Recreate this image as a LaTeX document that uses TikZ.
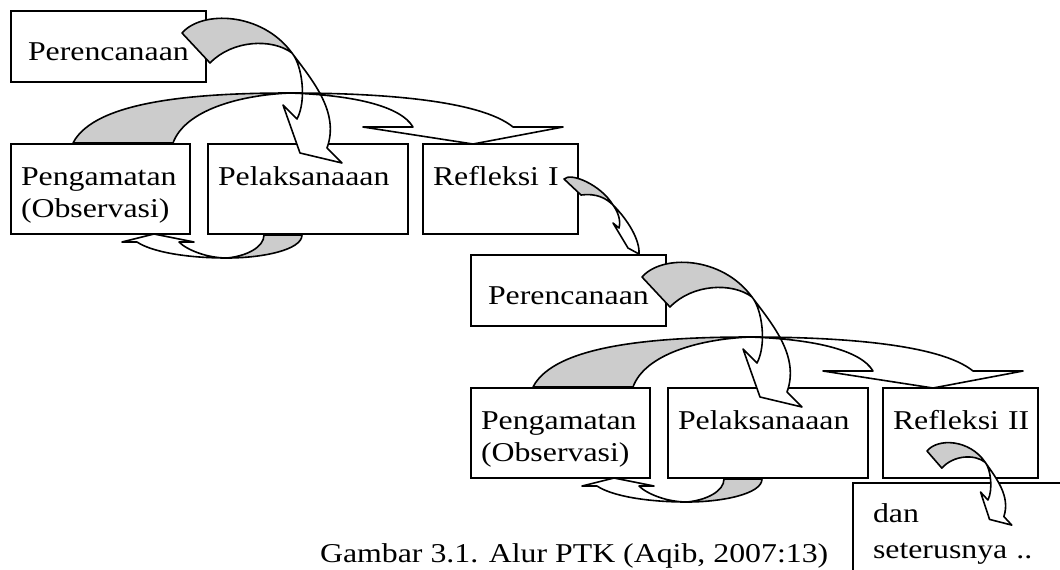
\documentclass[tikz,border=0pt]{standalone}
\usepackage{fontspec}
\setmainfont{Liberation Serif}[FakeStretch=1.17]
\usetikzlibrary{positioning}

\begin{document}
\begin{tikzpicture}[x=0.5pt, y=-0.5pt,
every node/.style={font=\fontsize{13.6pt}{16.4pt}\selectfont, inner ysep=0pt},
box/.style={draw, line width=1pt, anchor=north west, align=left, inner xsep=5pt, text height=20.5pt, text depth=24.5pt},
planbox/.style={box, inner xsep=8.5pt, text width=80.5pt, text height=24.5pt, text depth=11pt},
ribbon/.style={draw, line width=.8pt, line join=round},
back/.style={ribbon, fill=black!20},
front/.style={ribbon, fill=white},
pics/bend/.style={code={
  \path[back] (0,0) .. controls (20,-23) and (80,-21) .. (110,20)
    .. controls (90,5) and (50,7) .. (28,30) -- cycle;
  \path[front] (110,20) .. controls (130,47) and (158,79) .. (145,115)
    -- (160,130) -- (118,120) -- (101,72) -- (115,86)
    .. controls (125,67) and (120,32) .. (110,20) -- cycle;
}},
pics/overarc/.style={code={
  \path[back] (0,0) .. controls (22,-43) and (127,-50) .. (217,-50)
    .. controls (167,-48) and (112,-33) .. (100,0) -- cycle;
  \path[front] (217,-50) .. controls (307,-50) and (407,-43) .. (440,-16)
    -- (490,-16) -- (400,1) -- (290,-16) -- (340,-16)
    .. controls (327,-38) and (277,-48) .. (217,-50) -- cycle;
}},
pics/underarc/.style={code={
  \path[back] (0,0) .. controls (0,15) and (-40,23) .. (-75,23)
    .. controls (-55,21) and (-38,12) .. (-38,0) -- cycle;
  \path[front] (-75,23) .. controls (-115,23) and (-150,17) .. (-165,7)
    -- (-180,7) -- (-148,-1) -- (-108,7) -- (-123,7)
    .. controls (-115,15) and (-95,23) .. (-75,23) -- cycle;
}},
pics/drop/.style={code={
  \path[back] (0,0) .. controls (7,-7) and (37,6) .. (49,26)
    .. controls (42,19) and (32,14) .. (17,16) -- cycle;
  \path[front] (49,26) .. controls (64,41) and (76,61) .. (75,75)
    -- (64,69) -- (49,44) -- (55,49)
    .. controls (57,41) and (54,33) .. (49,26) -- cycle;
}}]
\useasboundingbox (0,0) rectangle (1060,569);
\clip (0,0) rectangle (1060,569);

% first cycle
\node[planbox] (plan1) at (10,10) {Perencanaan};
\node[box, text width=79.5pt] (obs1) at (10,143) {Pengamatan\\(Observasi)};
\node[box, text width=90pt, right=8pt of obs1] (act1) {Pelaksanaaan};
\node[box, text width=67.5pt, right=6.5pt of act1] (ref1) {Refleksi~I};

% second cycle
\node[planbox] (plan2) at (470,254) {Perencanaan};
\node[box, text width=79.5pt] (obs2) at (470,387) {Pengamatan\\(Observasi)};
\node[box, text width=90pt, right=8pt of obs2] (act2) {Pelaksanaaan};
\node[box, text width=67.5pt, right=6.5pt of act2] (ref2) {Refleksi~II};

\node[box, text width=94pt, inner xsep=10pt, text height=19.5pt, text depth=39.5pt,
  font=\fontsize{13.6pt}{18pt}\selectfont] (next) at (852,482) {dan\\seterusnya ..};
\node[anchor=base west] (caption) at (313,562) {Gambar 3.1. Alur PTK (Aqib, 2007:13)};

% curved block arrows
\pic at ([shift={(-25,23)}]plan1.north east) {bend};
\pic at ([shift={(95,0)}]act1.south west) {underarc};
\pic at ([shift={(63,0)}]obs1.north west) {overarc};
\pic at ([shift={(-15,36)}]ref1.north east) {drop};
\pic at ([shift={(-25,23)}]plan2.north east) {bend};
\pic at ([shift={(95,0)}]act2.south west) {underarc};
\pic at ([shift={(63,0)}]obs2.north west) {overarc};
\pic[xscale=.53, yscale=.57] at ([shift={(45,64)}]ref2.north west) {bend};
\end{tikzpicture}
\end{document}
